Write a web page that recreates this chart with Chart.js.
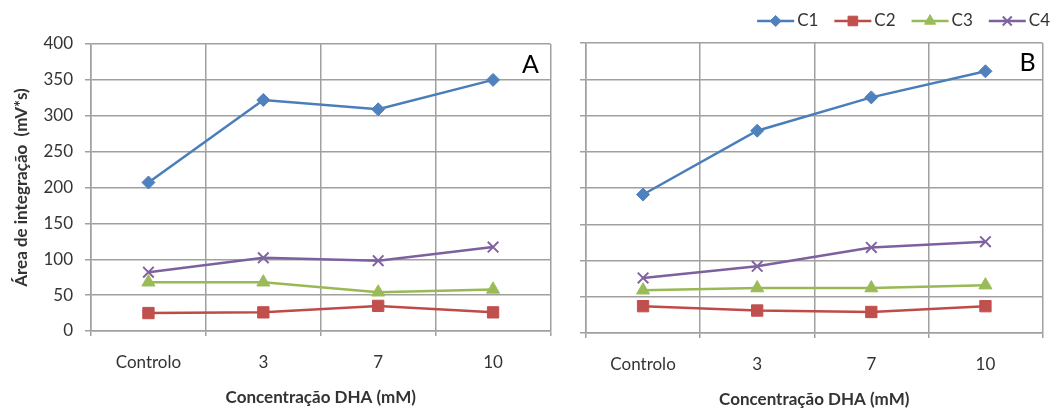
<!DOCTYPE html>
<html>
<head>
<meta charset="utf-8">
<script src="https://cdn.jsdelivr.net/npm/chart.js@4.4.1/dist/chart.umd.min.js"></script>
<style>
    body { margin: 0; background: #fff; }
    #wrap { position: relative; width: 1052px; height: 410px; overflow: hidden; }
    #chartA { position: absolute; left: 0; top: 0; }
    #chartB { position: absolute; left: 560px; top: 0; }
</style>
</head>
<body>
<div id="wrap">
    <canvas id="chartA" width="560" height="410"></canvas>
    <canvas id="chartB" width="492" height="410"></canvas>
</div>
<script>
"use strict";

// --- Data ---
const categories = ["Controlo", "3", "7", "10"];
const seriesNames = ["C1", "C2", "C3", "C4"];

const panelA_C1 = [207, 322, 309, 350];
const panelA_C2 = [25, 26, 35, 26];
const panelA_C3 = [68, 68, 54, 58];
const panelA_C4 = [82, 102, 98, 117];

const panelB_C1 = [191, 279, 325, 361];
const panelB_C2 = [37, 31, 29, 37];
const panelB_C3 = [59, 62, 62, 66];
const panelB_C4 = [76, 92, 118, 126];

const yMin = 0;
const yMax = 400;
const yStep = 50;

const xTitle = "Concentração DHA (mM)";
const yTitle = "Área de integração  (mV*s)";

// --- Styles ---
const FONT = "Lato, 'Open Sans', sans-serif";
const TEXT = "#333333";
const GRID = "#a0a0a0";

const seriesStyle = [
    { line: "#4A7EBB", mark: "#4F81BD", pointStyle: "rectRot", radius: 6.5, bw: 1 },
    { line: "#BE4B48", mark: "#C0504D", pointStyle: "rect", radius: 8, bw: 1 },
    { line: "#98B954", mark: "#9BBB59", pointStyle: "triangle", radius: 7.5, bw: 1 },
    { line: "#7D60A0", mark: "#8064A2", pointStyle: "crossRot", radius: 7.5, bw: 2 }
];

function makeDatasets(values) {
    return values.map((data, i) => {
        const s = seriesStyle[i];
        return {
            label: seriesNames[i],
            data: data,
            borderColor: s.line,
            backgroundColor: s.mark,
            borderWidth: 2.5,
            tension: 0,
            fill: false,
            pointStyle: s.pointStyle,
            pointRadius: s.radius,
            pointBackgroundColor: s.mark,
            pointBorderColor: s.mark,
            pointBorderWidth: s.bw
        };
    });
}

// Panel letter (A / B) in the upper right of the plot area
const panelLetter = {
    id: "panelLetter",
    afterDraw(chart, args, opts) {
        const { ctx, chartArea } = chart;
        ctx.save();
        ctx.font = "25px " + FONT;
        ctx.fillStyle = "#000";
        ctx.textAlign = "center";
        ctx.textBaseline = "middle";
        ctx.fillText(opts.text, chartArea.right + opts.dx, chartArea.top + opts.dy);
        ctx.restore();
    }
};

// Line + marker legend, right aligned on top
const lineLegend = {
    id: "lineLegend",
    afterDraw(chart, args, opts) {
        if (!opts.show) return;
        const { ctx } = chart;
        const iconW = 37, gap = 3, spacing = 16;
        ctx.save();
        ctx.font = "17px " + FONT;
        const items = chart.data.datasets.map(ds => ({ ds, w: ctx.measureText(ds.label).width }));
        let total = 0;
        items.forEach((it, i) => { total += iconW + gap + it.w + (i ? spacing : 0); });
        let x = opts.right - total;
        const y = opts.y;
        items.forEach(it => {
            const ds = it.ds;
            ctx.strokeStyle = ds.borderColor;
            ctx.lineWidth = 2.5;
            ctx.beginPath();
            ctx.moveTo(x, y);
            ctx.lineTo(x + iconW, y);
            ctx.stroke();
            ctx.fillStyle = ds.pointBackgroundColor;
            ctx.strokeStyle = ds.pointBorderColor;
            ctx.lineWidth = ds.pointBorderWidth;
            Chart.helpers.drawPoint(ctx, {
                pointStyle: ds.pointStyle,
                radius: ds.pointRadius * 0.85,
                rotation: 0,
                borderWidth: ds.pointBorderWidth
            }, x + iconW / 2, y);
            ctx.fillStyle = TEXT;
            ctx.textAlign = "left";
            ctx.textBaseline = "middle";
            ctx.fillText(ds.label, x + iconW + gap, y);
            x += iconW + gap + it.w + spacing;
        });
        ctx.restore();
    }
};

function buildOptions(cfg) {
    return {
        responsive: false,
        animation: false,
        layout: { padding: { left: 0, right: cfg.padRight, top: cfg.top, bottom: 0 } },
        plugins: {
            legend: { display: false },
            tooltip: { enabled: false },
            panelLetter: { text: cfg.letter, dx: cfg.letterDx, dy: cfg.letterDy },
            lineLegend: { show: cfg.legend, right: 490, y: 21 }
        },
        scales: {
            x: {
                type: "category",
                offset: true,
                grid: { offset: true, color: GRID, lineWidth: 1.5, tickLength: 5, drawTicks: true },
                border: { color: GRID, width: 1.5 },
                ticks: { color: TEXT, font: { family: FONT, size: 17 }, padding: 16, maxRotation: 0 },
                title: {
                    display: true,
                    text: xTitle,
                    color: TEXT,
                    font: { family: FONT, size: 17, weight: "bold" },
                    padding: { top: 0, bottom: cfg.xTitlePad }
                },
                afterFit: s => { s.height = cfg.xHeight; }
            },
            y: {
                min: yMin,
                max: yMax,
                grid: { color: GRID, lineWidth: 1.5, tickLength: 6, drawTicks: true },
                border: { color: GRID, width: 1.5 },
                ticks: {
                    display: cfg.yLabels,
                    stepSize: yStep,
                    color: TEXT,
                    font: { family: FONT, size: 17 },
                    padding: 12
                },
                title: {
                    display: cfg.yLabels,
                    text: yTitle,
                    color: TEXT,
                    font: { family: FONT, size: 17, weight: "bold" },
                    padding: { top: 11, bottom: 0 }
                },
                afterFit: s => { s.width = cfg.yWidth; }
            }
        }
    };
}

new Chart(document.getElementById("chartA"), {
    type: "line",
    data: {
        labels: categories,
        datasets: makeDatasets([panelA_C1, panelA_C2, panelA_C3, panelA_C4])
    },
    options: buildOptions({
        padRight: 3, top: 44, xHeight: 79, yWidth: 91, xTitlePad: 2,
        yLabels: true, letter: "A", letterDx: -20, letterDy: 21, legend: false
    }),
    plugins: [panelLetter, lineLegend]
});

new Chart(document.getElementById("chartB"), {
    type: "line",
    data: {
        labels: categories,
        datasets: makeDatasets([panelB_C1, panelB_C2, panelB_C3, panelB_C4])
    },
    options: buildOptions({
        padRight: 0, top: 43, xHeight: 77, yWidth: 26, xTitlePad: 0,
        yLabels: false, letter: "B", letterDx: -15, letterDy: 20, legend: true
    }),
    plugins: [panelLetter, lineLegend]
});
</script>
</body>
</html>
